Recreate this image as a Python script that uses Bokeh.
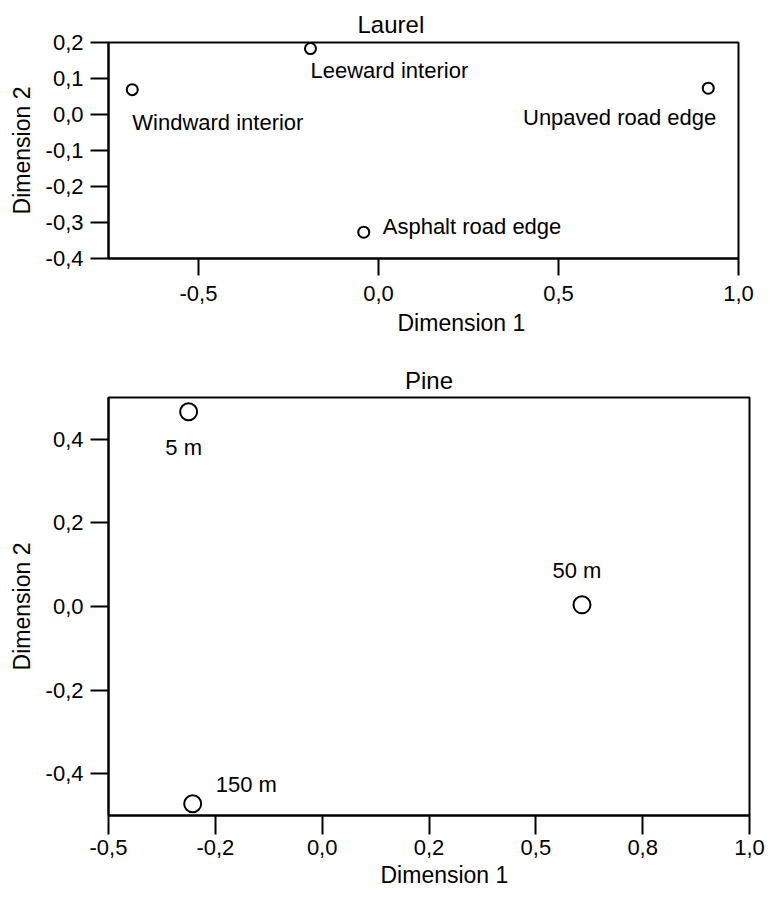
from bokeh.plotting import figure
from bokeh.layouts import column
from bokeh.models import FixedTicker, ColumnDataSource, Title
from bokeh.embed import file_html
from bokeh.resources import INLINE
from bokeh.core.properties import value

FONT = "Liberation Sans"

# ---- Laurel data ----
laurel_sites = ["Windward interior", "Leeward interior", "Asphalt road edge", "Unpaved road edge"]
laurel_dim1 = [-0.684, -0.189, -0.041, 0.916]
laurel_dim2 = [0.069, 0.183, -0.327, 0.073]
laurel_xticks = [-0.5, 0.0, 0.5, 1.0]
laurel_xlabels = ["-0,5", "0,0", "0,5", "1,0"]
laurel_yticks = [-0.4, -0.3, -0.2, -0.1, 0.0, 0.1, 0.2]
laurel_ylabels = ["-0,4", "-0,3", "-0,2", "-0,1", "0,0", "0,1", "0,2"]

# ---- Pine data ----
pine_sites = ["5 m", "50 m", "150 m"]
pine_dim1 = [-0.3125, 0.608, -0.303]
pine_dim2 = [0.466, 0.004, -0.472]
pine_xticks = [-0.5, -0.25, 0.0, 0.25, 0.5, 0.75, 1.0]
pine_xlabels = ["-0,5", "-0,2", "0,0", "0,2", "0,5", "0,8", "1,0"]
pine_yticks = [-0.4, -0.2, 0.0, 0.2, 0.4]
pine_ylabels = ["-0,4", "-0,2", "0,0", "0,2", "0,4"]


def style(p, xt, xl, yt, yl, xtick_len, xstand):
    p.grid.visible = False
    p.outline_line_color = "black"
    p.outline_line_width = 2
    p.outline_line_alpha = 1
    p.background_fill_color = "white"
    p.border_fill_color = "white"
    p.xaxis.ticker = FixedTicker(ticks=xt)
    p.yaxis.ticker = FixedTicker(ticks=yt)
    p.xaxis.major_label_overrides = dict(zip(xt, xl))
    p.yaxis.major_label_overrides = dict(zip(yt, yl))
    for ax in (p.xaxis[0], p.yaxis[0]):
        ax.axis_line_width = 2
        ax.major_tick_line_width = 2
        ax.major_tick_in = 0
        ax.minor_tick_line_color = None
        ax.major_label_text_font = FONT
        ax.major_label_text_font_size = "22px"
        ax.major_label_text_color = "black"
        ax.axis_label_text_font = FONT
        ax.axis_label_text_font_size = "23px"
        ax.axis_label_text_font_style = "normal"
        ax.axis_label_text_color = "black"
    p.xaxis.major_tick_out = xtick_len
    p.yaxis.major_tick_out = 18
    p.xaxis.major_label_standoff = xstand
    p.yaxis.major_label_standoff = 7
    p.yaxis.axis_label_standoff = 8
    p.yaxis.major_label_orientation = "horizontal"


def main_title(p, text, align, offset, standoff):
    t = p.title
    t.text = text
    t.align = align
    t.offset = offset
    t.standoff = standoff
    t.text_font = FONT
    t.text_font_size = "24px"
    t.text_font_style = "normal"
    t.text_color = "black"


def xlabel(p, text, offset, standoff):
    t = Title(text=text, align="left", offset=offset, standoff=standoff,
              text_font=FONT, text_font_size="23px", text_font_style="normal",
              text_color="black")
    p.add_layout(t, "below")


# ---- Laurel figure ----
p1 = figure(
    x_range=(-0.75, 1.0), y_range=(-0.4, 0.2),
    frame_width=630, frame_height=216,
    min_border_left=108, min_border_right=30, min_border_top=42, min_border_bottom=97,
    output_backend="svg", toolbar_location=None,
    y_axis_label="Dimension 2",
)
style(p1, laurel_xticks, laurel_xlabels, laurel_yticks, laurel_ylabels, 17, 10)
main_title(p1, "Laurel", "left", 249, 10)
xlabel(p1, "Dimension 1", 289, 8)

src1 = ColumnDataSource(dict(x=laurel_dim1, y=laurel_dim2, name=laurel_sites,
                             dx=[0, 0, 19, 8], dy=[33, 22, -6, 29],
                             align=["left", "left", "left", "right"]))
p1.scatter("x", "y", source=src1, marker="circle", size=11, fill_color="white",
           line_color="black", line_width=2)
p1.text("x", "y", text="name", source=src1, x_offset="dx", y_offset="dy",
        text_align="align", text_baseline="middle", text_font=value(FONT),
        text_font_size="22px", text_color="black")

# ---- Pine figure ----
p2 = figure(
    x_range=(-0.5, 1.0), y_range=(-0.5, 0.5),
    frame_width=641, frame_height=418,
    min_border_left=107, min_border_right=20, min_border_top=42, min_border_bottom=80,
    output_backend="svg", toolbar_location=None,
    y_axis_label="Dimension 2",
)
style(p2, pine_xticks, pine_xlabels, pine_yticks, pine_ylabels, 19, 5)
main_title(p2, "Pine", "center", 0, 8)
xlabel(p2, "Dimension 1", 272, 5)

src2 = ColumnDataSource(dict(x=pine_dim1, y=pine_dim2, name=pine_sites,
                             dx=[-5, -5, 23], dy=[36, -34, -19],
                             align=["center", "center", "left"]))
p2.scatter("x", "y", source=src2, marker="circle", size=17, fill_color="white",
           line_color="black", line_width=2)
p2.text("x", "y", text="name", source=src2, x_offset="dx", y_offset="dy",
        text_align="align", text_baseline="middle", text_font=value(FONT),
        text_font_size="22px", text_color="black")

layout = column(p1, p2, spacing=0)
open("out.html", "w").write(file_html(layout, INLINE))
